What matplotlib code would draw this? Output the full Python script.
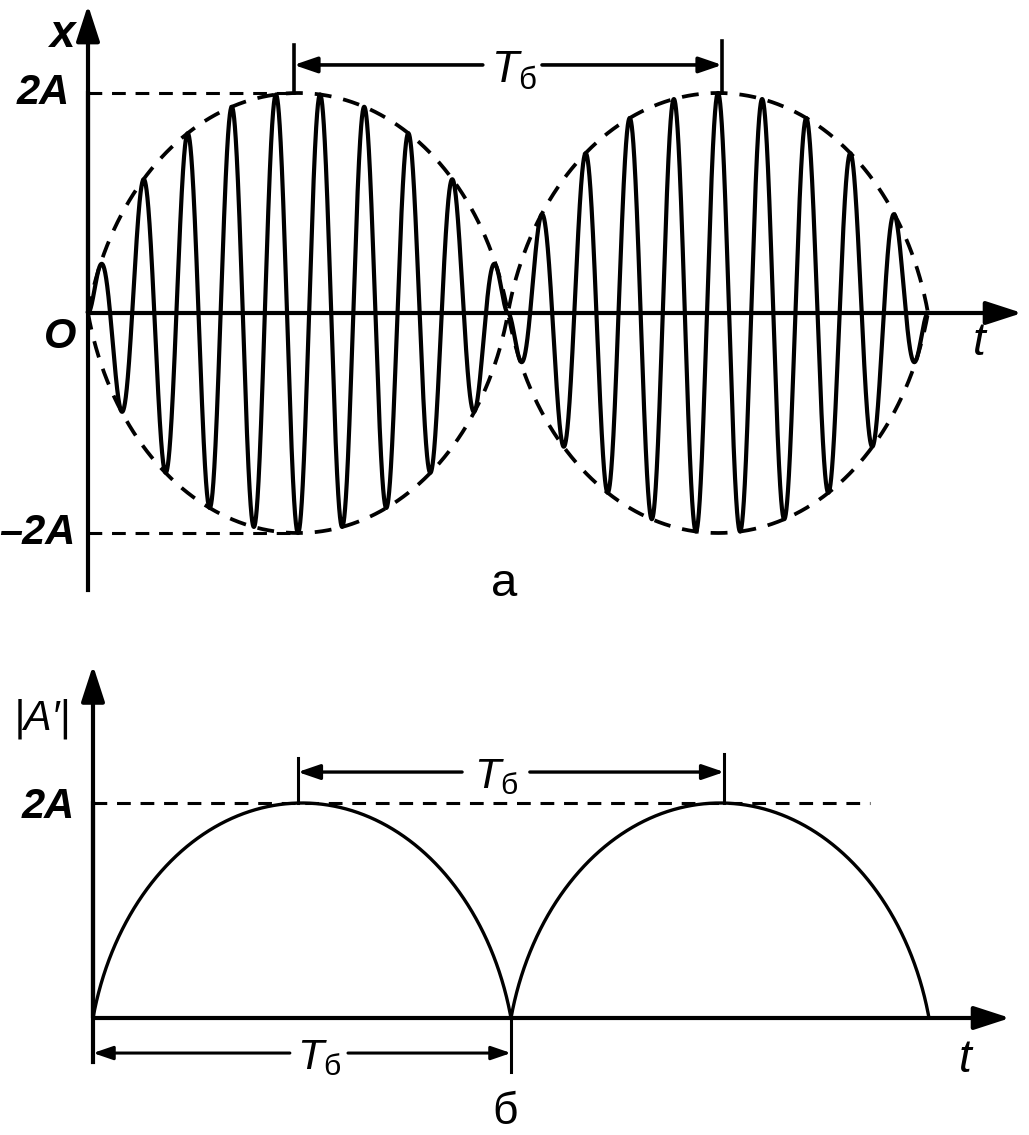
import numpy as np
import matplotlib.pyplot as plt

plt.rcParams['font.family'] = ['Liberation Sans', 'DejaVu Sans']
plt.rcParams['mathtext.fontset'] = 'custom'
plt.rcParams['mathtext.it'] = 'Liberation Sans:italic'
plt.rcParams['mathtext.rm'] = 'Liberation Sans'

W, H = 1029, 1135

# beat picture: t in units of one lobe (T_b), x in units of A
amp = 2.0                      # 2A
lobe_zeros = [0.0, 1.0, 2.0]   # envelope nodes
tb_marks = [0.49, 1.51]        # ends of the upper T_b arrows (near envelope maxima)
carrier_cycles = 9.5           # carrier periods in one lobe
arc_drop = 0.3                 # drawn envelope = elliptic arc cut by the axis
level_labels = ['2A', '\u20132A', 'O']
tb_text = '$T_{\\mathregular{\u0431}}$'

DASH = (0, (4.5, 3.2))


def lobe_arc(t):
    # elliptic arc through (0,0), (0.5,1), (1,0), repeated every lobe
    u = np.mod(t, 1.0) - 0.5
    b = 1 + arc_drop
    a = 0.5 / np.sqrt(1 - (arc_drop / b) ** 2)
    return np.clip(b * np.sqrt(np.clip(1 - (u / a) ** 2, 0, None)) - arc_drop, 0, None)


def arrow(ax, start, end, lw, ms, hl=0.35, hw=0.12):
    ax.annotate('', xy=end, xytext=start, annotation_clip=False,
                arrowprops=dict(arrowstyle='-|>,head_length=%g,head_width=%g' % (hl, hw),
                                lw=lw, color='k', mutation_scale=ms,
                                shrinkA=0, shrinkB=0))


fig = plt.figure(figsize=(W / 100, H / 100), dpi=100)

# ---------------- top panel (а) ----------------
ax1 = fig.add_axes([0, 1 - 600 / H, 1, 600 / H])
ax1.set_xlim(-88 / 420, (W - 88) / 420)
ax1.set_ylim(-(600 - 313) / 110, 313 / 110)
ax1.axis('off')

t = np.linspace(lobe_zeros[0], lobe_zeros[-1], 8001)
env = amp * lobe_arc(t)
env[-1] = 0.0
x = env * np.sin(2 * np.pi * carrier_cycles * t)
ax1.plot(t, x, color='k', lw=3.0)
ax1.plot(t, env, color='k', lw=2.7, linestyle=DASH)
ax1.plot(t, -env, color='k', lw=2.7, linestyle=DASH)
ax1.plot([0, tb_marks[0]], [amp, amp], color='k', lw=2.2, linestyle=DASH)
ax1.plot([0, tb_marks[0]], [-amp, -amp], color='k', lw=2.2, linestyle=DASH)

# axes with arrows
ax1.plot([0, 0], [-2.52, 2.0], color='k', lw=3.0)
arrow(ax1, (0, 0), (0, 2.80), 3.0, 55, 0.4, 0.13)
arrow(ax1, (0, 0), (2.224, 0), 3.0, 55, 0.4, 0.13)

# T_b dimension
ax1.plot([tb_marks[0]] * 2, [2.0, 2.44], color='k', lw=2.6)
ax1.plot([tb_marks[1]] * 2, [2.0, 2.47], color='k', lw=2.6)
arrow(ax1, (0.940, 2.255), (tb_marks[0], 2.255), 2.6, 40)
arrow(ax1, (1.081, 2.255), (tb_marks[1], 2.255), 2.6, 40)
ax1.text(1.015, 2.20, tb_text, fontsize=32, ha='center', va='center')

ax1.text(-0.062, 2.53, 'x', fontsize=33, style='italic', weight='bold', ha='center', va='center')
ax1.text(-0.043, 2.0, level_labels[0], fontsize=30, style='italic', weight='bold', ha='right', va='center')
ax1.text(-0.031, -2.0, level_labels[1], fontsize=30, style='italic', weight='bold', ha='right', va='center')
ax1.text(-0.067, -0.22, level_labels[2], fontsize=30, style='italic', weight='bold', ha='center', va='center')
ax1.text(2.121, -0.27, 't', fontsize=33, style='italic', ha='center', va='center')
ax1.text(0.99, -2.46, '\u0430', fontsize=34, ha='center', va='center')

# ---------------- bottom panel (б) ----------------
ax2 = fig.add_axes([0, 0, 1, (H - 620) / H])
ax2.set_xlim(-93 / 418, (W - 93) / 418)
ax2.set_ylim(-(H - 1018) / 107.5, (1018 - 620) / 107.5)
ax2.axis('off')

ax2.plot(t, env, color='k', lw=2.4)
ax2.plot([0, 1.859], [amp, amp], color='k', lw=2.2, linestyle=DASH)

ax2.plot([0, 0], [-0.41, 2.0], color='k', lw=3.0)
arrow(ax2, (0, 0), (0, 3.28), 3.0, 55, 0.4, 0.13)
arrow(ax2, (0, 0), (2.194, 0), 3.0, 55, 0.4, 0.13)

ax2.plot([tb_marks[0]] * 2, [2.0, 2.42], color='k', lw=2.2)
ax2.plot([tb_marks[1]] * 2, [2.0, 2.46], color='k', lw=2.2)
arrow(ax2, (0.883, 2.288), (tb_marks[0], 2.288), 2.4, 38)
arrow(ax2, (1.045, 2.288), (tb_marks[1], 2.288), 2.4, 38)
ax2.text(0.965, 2.24, tb_text, fontsize=31, ha='center', va='center')

ax2.plot([lobe_zeros[1]] * 2, [0, -0.50], color='k', lw=2.2)
arrow(ax2, (0.471, -0.326), (lobe_zeros[0], -0.326), 2.2, 34)
arrow(ax2, (0.610, -0.326), (lobe_zeros[1], -0.326), 2.2, 34)
ax2.text(0.540, -0.37, tb_text, fontsize=31, ha='center', va='center')

ax2.text(-0.122, 2.78, '|A\u2032|', fontsize=30, style='italic', ha='center', va='center')
ax2.text(-0.043, 1.96, level_labels[0], fontsize=30, style='italic', weight='bold', ha='right', va='center')
ax2.text(2.086, -0.39, 't', fontsize=33, style='italic', ha='center', va='center')
ax2.text(0.986, -0.88, '\u0431', fontsize=32, ha='center', va='center')

fig.savefig('out.png', dpi=100)
